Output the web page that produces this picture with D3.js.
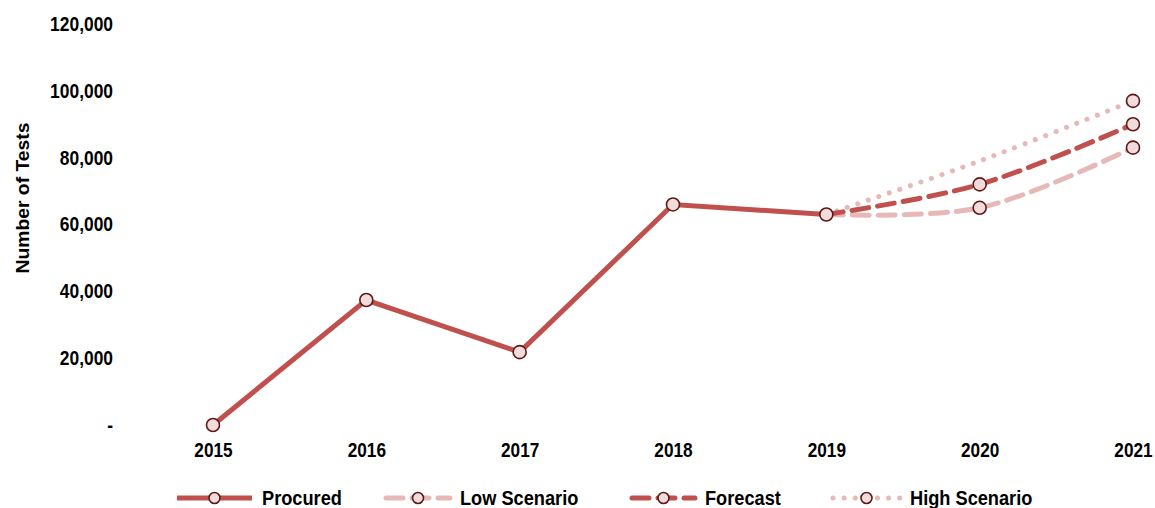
<!DOCTYPE html>
<html>
<head>
<meta charset="UTF-8">
<title>Number of Tests</title>
<script src="https://d3js.org/d3.v7.min.js"></script>
<style>
  body { margin: 0; background: #fff; }
  text { font-family: "Liberation Sans", Arial, sans-serif; font-weight: bold; fill: #000; }
</style>
</head>
<body>
<script>
var years = [2015, 2016, 2017, 2018, 2019, 2020, 2021];
var procured = [0, 37400, 21800, 66000, 63000];
var lowScenario = [63000, 65000, 83000];
var forecast = [63000, 72000, 90000];
var highScenario = [63000, 79000, 97000];
var yTicks = [0, 20000, 40000, 60000, 80000, 100000, 120000];

var W = 1155, H = 508;
var red = "#c0504d", pink = "#e6b9b8", mFill = "#f2dcdb", mStroke = "#5b1a18";

var svg = d3.select("body").append("svg")
    .attr("width", W).attr("height", H);

// squeeze text horizontally to mimic the narrow font
function narrow(sel, k){
  sel.each(function(){
    var w = this.getComputedTextLength();
    d3.select(this).attr("textLength", w * k).attr("lengthAdjust", "spacingAndGlyphs");
  });
}

var x = d3.scalePoint().domain(years).range([213, 1133]);
var y = d3.scaleLinear().domain([0, 120000]).range([425, 24]);

var fmt = d3.format(",");
var yAxis = d3.axisLeft(y).tickValues(yTicks)
    .tickFormat(function(d){ return d === 0 ? "-" : fmt(d); })
    .tickSize(0).tickPadding(0);
var gy = svg.append("g").attr("transform", "translate(113,0)").call(yAxis);
gy.select(".domain").remove();
gy.attr("font-family", null);
gy.selectAll("text").style("font-size", "20px");
narrow(gy.selectAll("text"), 0.87);

var xAxis = d3.axisBottom(x).tickSize(0).tickPadding(0);
var gx = svg.append("g").attr("transform", "translate(0,443)").call(xAxis);
gx.select(".domain").remove();
gx.attr("font-family", null);
gx.selectAll("text").style("font-size", "20px");
narrow(gx.selectAll("text"), 0.86);

svg.append("text")
    .attr("transform", "translate(29,198) rotate(-90)")
    .attr("text-anchor", "middle")
    .style("font-size", "19px")
    .text("Number  of  Tests")
    .attr("textLength", 151).attr("lengthAdjust", "spacingAndGlyphs");

var scenYears = years.slice(4);
var straight = d3.line().x(function(d){ return x(d[0]); }).y(function(d){ return y(d[1]); });
var smooth = d3.line().curve(d3.curveCatmullRom.alpha(0.5))
    .x(function(d){ return x(d[0]); }).y(function(d){ return y(d[1]); });

function pairs(ys, vals){ return vals.map(function(v, i){ return [ys[i], v]; }); }

var series = [
  {name: "High Scenario", data: pairs(scenYears, highScenario), color: pink, dash: "0.1 11", cap: "round", gen: smooth, marks: [2021]},
  {name: "Low Scenario", data: pairs(scenYears, lowScenario), color: pink, dash: "17 9", cap: "round", gen: smooth, marks: [2020, 2021]},
  {name: "Forecast", data: pairs(scenYears, forecast), color: red, dash: "17 9", cap: "round", gen: smooth, marks: [2020, 2021]},
  {name: "Procured", data: pairs(years, procured), color: red, dash: null, cap: "butt", gen: straight, marks: years.slice(0, 5)}
];

series.forEach(function(s){
  svg.append("path")
      .attr("d", s.gen(s.data))
      .attr("fill", "none")
      .attr("stroke", s.color)
      .attr("stroke-width", 5)
      .attr("stroke-linecap", s.cap)
      .attr("stroke-dasharray", s.dash);
});

series.forEach(function(s){
  svg.selectAll(null)
      .data(s.data.filter(function(d){ return s.marks.indexOf(d[0]) >= 0; }))
      .enter().append("circle")
      .attr("cx", function(d){ return x(d[0]); })
      .attr("cy", function(d){ return y(d[1]); })
      .attr("r", 6.5)
      .attr("fill", mFill)
      .attr("stroke", mStroke)
      .attr("stroke-width", 1.6);
});

// legend
var legend = [
  {name: "Procured", color: red, dash: null, cap: "butt", x0: 177, x1: 252},
  {name: "Low Scenario", color: pink, dash: "17 9", cap: "round", x0: 386, x1: 450},
  {name: "Forecast", color: red, dash: "17 9", cap: "round", x0: 632, x1: 695},
  {name: "High Scenario", color: pink, dash: "0.1 11", cap: "round", x0: 833, x1: 900}
];
var ly = 498;
legend.forEach(function(l){
  var mid = (l.x0 + l.x1) / 2;
  svg.append("line")
      .attr("x1", l.x0).attr("x2", l.x1).attr("y1", ly).attr("y2", ly)
      .attr("stroke", l.color).attr("stroke-width", 5)
      .attr("stroke-linecap", l.cap)
      .attr("stroke-dasharray", l.dash);
  svg.append("circle")
      .attr("cx", mid).attr("cy", ly).attr("r", 5.5)
      .attr("fill", mFill).attr("stroke", mStroke).attr("stroke-width", 1.6);
  var t = svg.append("text")
      .attr("x", l.x1 + 10).attr("y", ly)
      .attr("dy", "0.36em")
      .style("font-size", "20px")
      .text(l.name);
  narrow(t, 0.91);
});
</script>
</body>
</html>
